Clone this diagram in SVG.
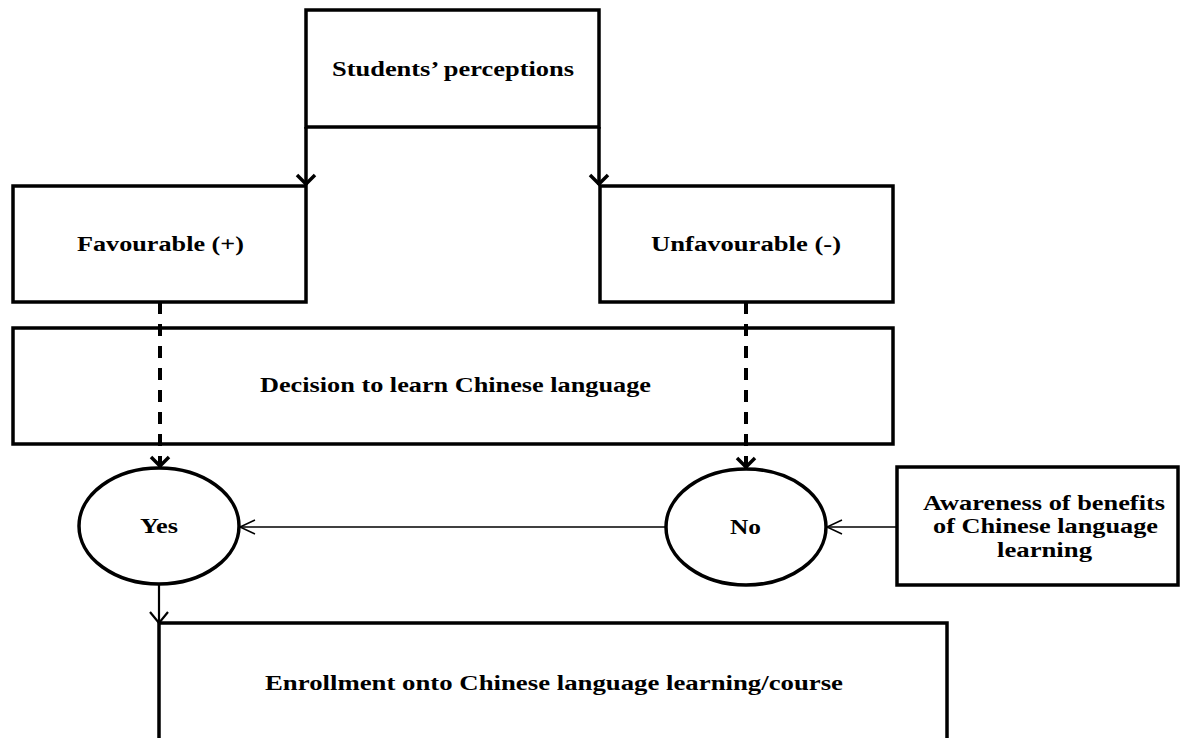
<svg xmlns="http://www.w3.org/2000/svg" width="1182" height="738" viewBox="0 0 1182 738">
<style>
.box{fill:#fff;stroke:#000;stroke-width:3.5}
.t{font-family:"Liberation Serif","Times New Roman",serif;font-weight:bold;font-size:20px;fill:#000}
.thick{stroke:#000;stroke-width:3.5;fill:none}
.dash{stroke:#000;stroke-width:4;stroke-dasharray:12 10;fill:none}
.thin{stroke:#000;stroke-width:1.5;fill:none}
.mid{stroke:#000;stroke-width:2.2;fill:none}
</style>
<defs>
<marker id="vThick" markerUnits="userSpaceOnUse" viewBox="-14 -12 16 24" markerWidth="16" markerHeight="24" refX="0" refY="0" orient="auto" overflow="visible">
<path d="M-10,-9 L-1,0 L-10,9" fill="none" stroke="#000" stroke-width="3.5"/>
</marker>
<marker id="vThin" markerUnits="userSpaceOnUse" viewBox="-18 -10 20 20" markerWidth="20" markerHeight="20" refX="0" refY="0" orient="auto" overflow="visible">
<path d="M-15,-7 L0,0 L-15,7" fill="none" stroke="#000" stroke-width="1.5"/>
</marker>
<marker id="vMid" markerUnits="userSpaceOnUse" viewBox="-14 -11 16 22" markerWidth="16" markerHeight="22" refX="0" refY="0" orient="auto" overflow="visible">
<path d="M-11,-9 L0,0 L-11,9" fill="none" stroke="#000" stroke-width="2.2"/>
</marker>
</defs>
<g id="node-perceptions">
<rect class="box" x="306" y="10" width="293" height="117"/>
<text class="t" x="332" y="76" textLength="242" lengthAdjust="spacingAndGlyphs">Students’ perceptions</text>
</g>
<g id="node-favourable">
<rect class="box" x="13" y="186" width="293" height="116"/>
<text class="t" x="77" y="251" textLength="167" lengthAdjust="spacingAndGlyphs">Favourable (+)</text>
</g>
<g id="node-unfavourable">
<rect class="box" x="600" y="186" width="293" height="116"/>
<text class="t" x="651" y="251" textLength="190" lengthAdjust="spacingAndGlyphs">Unfavourable (-)</text>
</g>
<g id="node-decision">
<rect class="box" x="13" y="328" width="880" height="116"/>
<text class="t" x="260" y="392" textLength="391" lengthAdjust="spacingAndGlyphs">Decision to learn Chinese language</text>
</g>
<g id="node-yes">
<ellipse class="box" cx="159" cy="526" rx="80" ry="58"/>
<text class="t" x="140" y="533" textLength="38" lengthAdjust="spacingAndGlyphs">Yes</text>
</g>
<g id="node-no">
<ellipse class="box" cx="746" cy="527" rx="80" ry="58"/>
<text class="t" x="730" y="534" textLength="31" lengthAdjust="spacingAndGlyphs">No</text>
</g>
<g id="node-awareness">
<rect class="box" x="897" y="467" width="281" height="118"/>
<text class="t" x="923" y="510" textLength="242" lengthAdjust="spacingAndGlyphs">Awareness of benefits</text>
<text class="t" x="933" y="533" textLength="225" lengthAdjust="spacingAndGlyphs">of Chinese language</text>
<text class="t" x="997" y="557" textLength="95" lengthAdjust="spacingAndGlyphs">learning</text>
</g>
<g id="node-enrollment">
<rect class="box" x="159" y="623" width="788" height="140"/>
<text class="t" x="265" y="690" textLength="578" lengthAdjust="spacingAndGlyphs">Enrollment onto Chinese language learning/course</text>
</g>
<g id="connectors">
<path class="thick" d="M306,127 V185" marker-end="url(#vThick)"/>
<path class="thick" d="M599,127 V185" marker-end="url(#vThick)"/>
<path class="dash" d="M160,302 V467" marker-end="url(#vThick)"/>
<path class="dash" d="M746,302 V468" marker-end="url(#vThick)"/>
<path class="thin" d="M666,527 H240" marker-end="url(#vThin)"/>
<path class="thin" d="M897,527 H827" marker-end="url(#vThin)"/>
<path class="mid" d="M159,585 V623" marker-end="url(#vMid)"/>
</g>
</svg>
